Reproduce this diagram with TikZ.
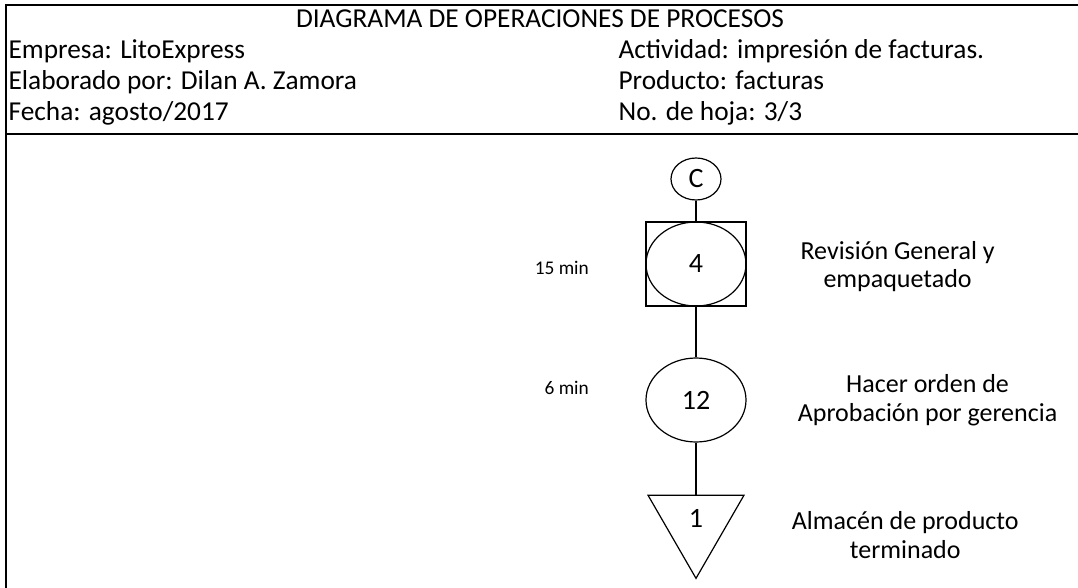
\documentclass[tikz,border=0pt]{standalone}
\usepackage{fontspec}
\setmainfont{Carlito}
\usetikzlibrary{shapes.geometric}
\usetikzlibrary{positioning}

\begin{document}
\begin{tikzpicture}[
        x=0.75pt, y=-0.75pt,
        every node/.style={inner sep=0pt, align=center},
        marco/.style={line width=1.5pt},
        cab/.style={font=\fontsize{20.5}{23}\selectfont},
        txt/.style={font=\fontsize{19.5}{21.5}\selectfont},
        tiempo/.style={font=\fontsize{14.5}{16}\selectfont},
        simbolo/.style={draw, line width=0.9pt, font=\fontsize{21}{24}\selectfont},
        line width=0.9pt
    ]
    \useasboundingbox (0,0) rectangle (1078,588);

    % Encabezado
    \draw[marco] (1078,5) -- (6,5) -- (6,588);
    \draw[marco] (6,134) -- (1078,134);
    \node[cab, anchor=base] (titulo) at (540,28) {DIAGRAMA DE OPERACIONES DE PROCESOS};
    \node[cab, anchor=base west] (empresa) at (8,59) {Empresa: LitoExpress};
    \node[cab, anchor=base west] (elaborado) at (8,90) {Elaborado por: Dilan A. Zamora};
    \node[cab, anchor=base west] (fecha) at (8,121) {Fecha: agosto/2017};
    \node[cab, anchor=base west] (actividad) at (618,59) {Actividad: impresión de facturas.};
    \node[cab, anchor=base west] (producto) at (618,90) {Producto: facturas};
    \node[cab, anchor=base west] (hoja) at (618,121) {No. de hoja: 3/3};

    % Simbolos
    \node[simbolo, ellipse, minimum width=37.5pt, minimum height=31.5pt] (conector) at (696,179) {C};
    \node[simbolo, rectangle, minimum width=75pt, minimum height=63pt] (caja4) at (696,264) {};
    \node[simbolo, ellipse, minimum width=75pt, minimum height=63pt] (op4) at (696,264) {4};
    \node[simbolo, ellipse, minimum width=75pt, minimum height=63pt] (op12) at (696,400) {12};
    \node[simbolo, regular polygon, regular polygon sides=3, shape border rotate=180,
          minimum size=83pt] (alm1) at (696,523) {};
    \node[simbolo, draw=none] (num1) at (696,518) {1};

    % Lineas
    \draw (conector) -- (caja4);
    \draw (caja4) -- (op12);
    \draw (op12) -- (alm1.north);

    % Tiempos y descripciones
    \node[tiempo, left=42pt of op4, yshift=-3pt] (t4) {15 min};
    \node[tiempo, left=42pt of op12, yshift=9pt] (t12) {6 min};
    \node[txt, right=40pt of op4, yshift=-2pt] (d4) {Revisión General y\\empaquetado};
    \node[txt, right=38pt of op12] (d12) {Hacer orden de\\Aprobación por gerencia};
    \node[txt, right=47pt of alm1, yshift=-9pt] (d1) {Almacén de producto\\terminado};
\end{tikzpicture}
\end{document}
